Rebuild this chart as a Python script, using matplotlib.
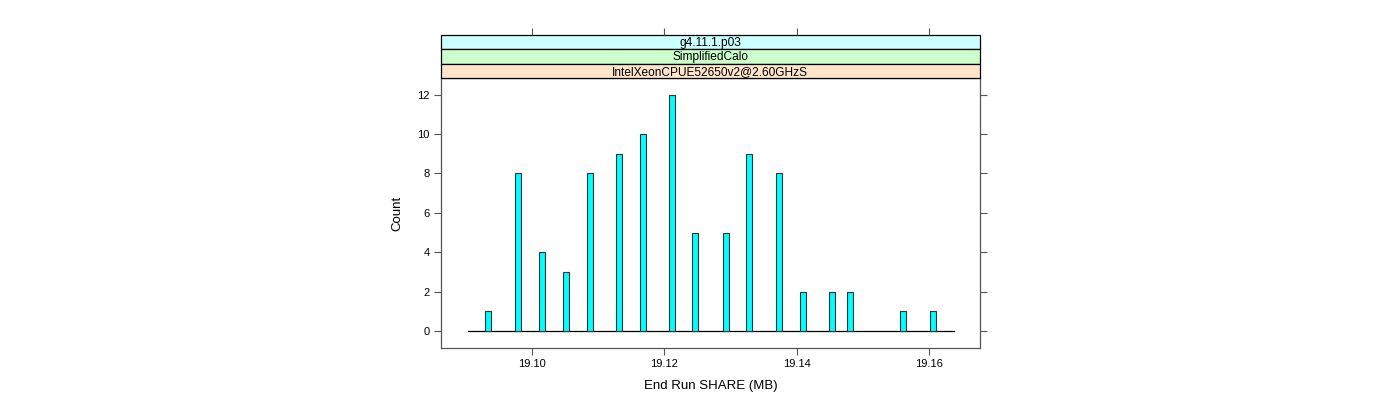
import matplotlib
matplotlib.use("Agg")
import matplotlib.pyplot as plt
from matplotlib.patches import Rectangle

plt.rcParams["font.family"] = ["Liberation Sans", "DejaVu Sans"]

# values
share_mb = [19.0934, 19.0979, 19.1015, 19.1051, 19.1087, 19.1131, 19.1167,
            19.1212, 19.1247, 19.1293, 19.1328, 19.1373, 19.1409, 19.1453,
            19.1480, 19.1560, 19.1606]
counts = [1, 8, 4, 3, 8, 9, 10, 12, 5, 5, 9, 8, 2, 2, 2, 1, 1]
baseline_range = [19.0903, 19.1637]
x_ticks = [19.10, 19.12, 19.14, 19.16]
y_ticks = [0, 2, 4, 6, 8, 10, 12]
strip_labels = ["g4.11.1.p03", "SimplifiedCalo", "IntelXeonCPUE52650v2@2.60GHzS"]
strip_colors = ["#ccffff", "#ccffcc", "#ffe5cc"]

frame_col = "#555555"
xlim = (19.0862, 19.1677)
ylim = (-0.84, 12.84)

fig = plt.figure(figsize=(14, 4), dpi=100)
ax = fig.add_axes([0.3148, 0.1308, 0.3852, 0.674])

ax.bar(share_mb, counts, width=0.0009, color="#00ffff", edgecolor="#333333",
       linewidth=0.8, zorder=3)
ax.plot(baseline_range, [0, 0], color="black", linewidth=0.9, zorder=2)

ax.set_xlim(*xlim)
ax.set_ylim(*ylim)
ax.set_xticks(x_ticks)
ax.set_xticklabels([f"{t:.2f}" for t in x_ticks])
ax.set_yticks(y_ticks)
ax.tick_params(axis="both", direction="out", length=5, width=0.8,
               color=frame_col, labelsize=8, pad=3,
               right=True, labelright=False)
for s in ax.spines.values():
    s.set_color(frame_col)
    s.set_linewidth(0.9)
ax.set_xlabel("End Run SHARE (MB)", fontsize=9.5, labelpad=8)
ax.set_ylabel("Count", fontsize=9.5, labelpad=10)

# strips above the panel
strip_h = 0.0361
sax = fig.add_axes([0.3148, 0.1308 + 0.674, 0.3852, strip_h * 3])
sax.set_xlim(*xlim)
sax.set_ylim(0, 3)
sax.set_xticks(x_ticks)
sax.set_yticks([])
sax.tick_params(axis="x", direction="out", length=5, width=0.8,
                color=frame_col, top=True, bottom=False,
                labeltop=False, labelbottom=False)
for s in sax.spines.values():
    s.set_visible(False)

trans = sax.get_yaxis_transform()  # x in axes fraction, y in data
for i, (lab, col) in enumerate(zip(strip_labels, strip_colors)):
    y0 = 2 - i
    sax.add_patch(Rectangle((0, y0), 1, 1, transform=trans, facecolor=col,
                            edgecolor="black", linewidth=0.9, clip_on=False))
    sax.text(0.5, y0 + 0.45, lab, transform=trans, ha="center", va="center",
             fontsize=8.6)

fig.savefig("out.png", dpi=100)
